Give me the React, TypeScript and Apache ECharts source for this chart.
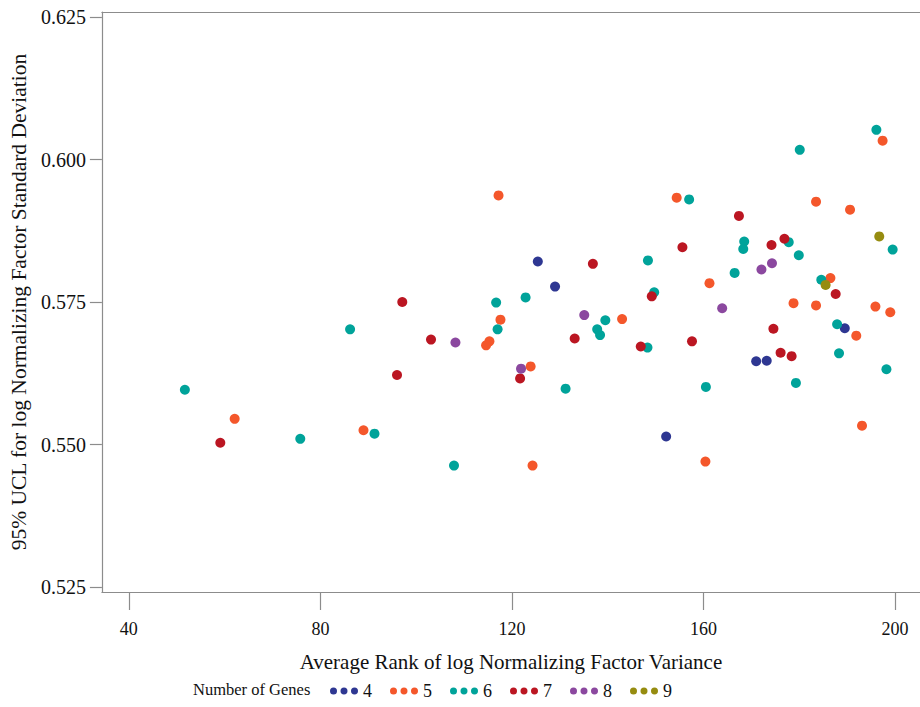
import React, { useEffect, useRef } from "react";
import * as echarts from "echarts";

const groupNames = ["4", "5", "6", "7", "8", "9"];
const groupColors = ["#2e3792", "#f4572b", "#00a39a", "#bb1622", "#8b489f", "#968c10"];

const genes4: number[][] = [
  [125.4, 0.5821], [129.0, 0.5777], [171.0, 0.5646], [173.2, 0.5647], [189.5, 0.5704], [152.2, 0.5514],
];
const genes5: number[][] = [
  [117.2, 0.5937], [154.4, 0.5933], [161.25, 0.5783], [117.6, 0.5719], [143.0, 0.572], [115.3, 0.5681],
  [114.6, 0.5674], [123.9, 0.5637], [124.3, 0.5463], [160.4, 0.547], [62.1, 0.5545], [89.0, 0.5525],
  [197.4, 0.6033], [183.5, 0.5926], [190.6, 0.5912], [186.5, 0.5792], [178.8, 0.5748], [183.5, 0.5744],
  [195.9, 0.5742], [199.0, 0.5732], [191.9, 0.5691], [193.1, 0.5533],
];
const genes6: number[][] = [
  [51.7, 0.5596], [75.8, 0.551], [86.2, 0.5702], [91.3, 0.5519], [107.9, 0.5463], [116.7, 0.5749],
  [117.0, 0.5702], [122.85, 0.5758], [131.2, 0.5598], [137.8, 0.5702], [138.4, 0.5692], [139.5, 0.5718],
  [148.4, 0.5823], [149.7, 0.5767], [148.3, 0.567], [157.0, 0.593], [160.5, 0.5601], [166.5, 0.5801],
  [168.5, 0.5856], [168.3, 0.5843], [196.1, 0.6052], [180.1, 0.6017], [177.8, 0.5855], [179.9, 0.5832],
  [184.6, 0.5789], [199.5, 0.5842], [187.9, 0.5711], [188.3, 0.566], [198.2, 0.5632], [179.3, 0.5608],
];
const genes7: number[][] = [
  [59.1, 0.5503], [96.0, 0.5622], [97.1, 0.575], [103.1, 0.5684], [121.7, 0.5616], [133.1, 0.5686],
  [136.9, 0.5817], [149.2, 0.576], [146.9, 0.5672], [157.6, 0.5681], [155.6, 0.5846], [167.4, 0.5901],
  [176.9, 0.5861], [174.2, 0.585], [174.6, 0.5703], [187.6, 0.5764], [176.1, 0.5661], [178.4, 0.5655],
];
const genes8: number[][] = [
  [108.2, 0.5679], [121.9, 0.5633], [135.1, 0.5727], [163.9, 0.5739], [174.3, 0.5818], [172.1, 0.5807],
];
const genes9: number[][] = [
  [196.7, 0.5865], [185.5, 0.578],
];
const groupData = [genes4, genes5, genes6, genes7, genes8, genes9];

const xTicks = [40, 80, 120, 160, 200];
const yTicks = [0.525, 0.55, 0.575, 0.6, 0.625];

const FONT = "'Liberation Serif', 'Times New Roman', serif";
const DOTS = "path://M3.5,4m-3.5,0a3.5,3.5 0 1,0 7,0a3.5,3.5 0 1,0 -7,0M14,4m-3.5,0a3.5,3.5 0 1,0 7,0a3.5,3.5 0 1,0 -7,0M24.5,4m-3.5,0a3.5,3.5 0 1,0 7,0a3.5,3.5 0 1,0 -7,0";

export default function App() {
  const ref = useRef<HTMLDivElement>(null);
  useEffect(() => {
    if (!ref.current) return;
    const chart = echarts.init(ref.current, undefined, { renderer: "svg" });
    const axisLineStyle = { color: "#8c8c8c", width: 1.2 };
    chart.setOption({
      animation: false,
      backgroundColor: "#ffffff",
      grid: { left: 100, right: 0, top: 12, bottom: 115, containLabel: false },
      xAxis: [
        {
          type: "value",
          min: 40 - 27 / 4.8,
          max: 40 + 793 / 4.8,
          splitLine: { show: false },
          axisLine: { show: true, onZero: false, lineStyle: axisLineStyle },
          axisTick: { show: true, length: 18, lineStyle: axisLineStyle, customValues: xTicks },
          axisLabel: {
            customValues: xTicks,
            color: "#111",
            fontFamily: FONT,
            fontSize: 18,
            margin: 28,
          },
          name: "Average Rank of log Normalizing Factor Variance",
          nameLocation: "middle",
          nameGap: 59,
          nameTextStyle: { color: "#111", fontFamily: FONT, fontSize: 21 },
        },
        {
          type: "value",
          position: "top",
          min: 40 - 27 / 4.8,
          max: 40 + 793 / 4.8,
          splitLine: { show: false },
          axisLine: { show: true, onZero: false, lineStyle: axisLineStyle },
          axisTick: { show: false },
          axisLabel: { show: false },
        },
      ],
      yAxis: {
        type: "value",
        min: 0.525 - 5 / 5700,
        max: 0.625 + 5 / 5700,
        splitLine: { show: false },
        axisLine: { show: true, onZero: false, lineStyle: axisLineStyle },
        axisTick: { show: true, length: 12, lineStyle: axisLineStyle, customValues: yTicks },
        axisLabel: {
          customValues: yTicks,
          color: "#111",
          fontFamily: FONT,
          fontSize: 20,
          margin: 16,
          formatter: (v: number) => v.toFixed(3),
        },
        name: "95% UCL for log Normalizing Factor Standard Deviation",
        nameLocation: "middle",
        nameGap: 70,
        nameTextStyle: { color: "#111", fontFamily: FONT, fontSize: 21.5 },
      },
      legend: {
        left: 325,
        top: 677,
        itemWidth: 28,
        itemHeight: 7,
        itemGap: 18,
        icon: DOTS,
        textStyle: { color: "#111", fontFamily: FONT, fontSize: 18 },
        data: groupNames,
      },
      graphic: [
        {
          type: "text",
          left: 193,
          top: 681,
          style: { text: "Number of Genes", fill: "#111", font: `16.5px ${FONT}` },
        },
      ],
      series: groupNames.map((n, i) => ({
        name: n,
        type: "scatter",
        data: groupData[i],
        symbolSize: 10,
        itemStyle: { color: groupColors[i], opacity: 1 },
      })),
    });
    return () => chart.dispose();
  }, []);
  return <div ref={ref} style={{ width: 920, height: 707, position: "absolute", left: 0, top: 0 }} />;
}
